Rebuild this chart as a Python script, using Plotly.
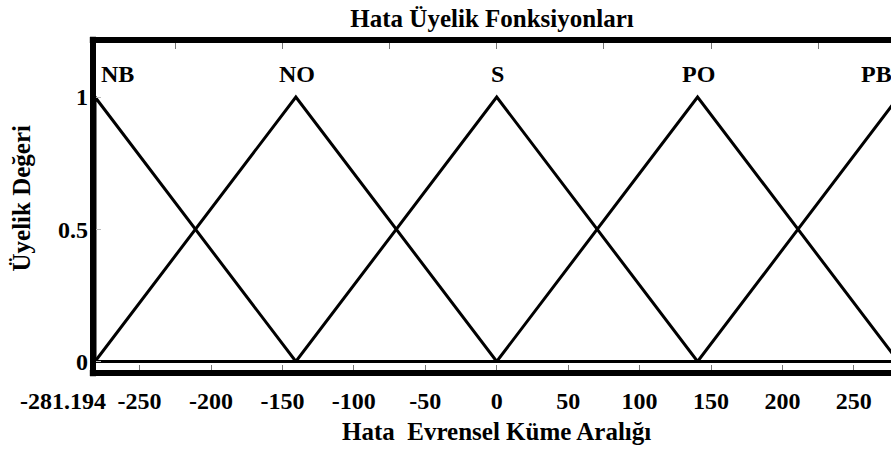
import plotly.graph_objects as go

# Hata (error) membership functions - triangular, universe +-281.194
names = ['NB', 'NO', 'S', 'PO', 'PB']
centers = [-281.194, -140.597, 0.0, 140.597, 281.194]
half_width = 140.597
u_min, u_max = -281.194, 281.194

x_tickvals = [-281.194, -250, -200, -150, -100, -50, 0, 50, 100, 150, 200, 250]
x_ticktext = ['', '-250', '-200', '-150', '-100', '-50', '0', '50', '100', '150', '200', '250']
y_tickvals = [0, 0.5, 1]
y_ticktext = ['0', '0.5', '1']

FONT = 'Liberation Serif'
W, H = 891, 451

fig = go.Figure()

for name, c in zip(names, centers):
    a = max(c - half_width, u_min)
    b = min(c + half_width, u_max)
    xs = [u_min, a, c, b, u_max]
    ys = [0, 0 if a < c else 1, 1, 0 if b > c else 1, 0]
    fig.add_trace(go.Scatter(x=xs, y=ys, mode='lines', name=name,
                             line=dict(color='black', width=3),
                             showlegend=False, hoverinfo='skip'))

# invisible trace so the top tick axis exists
fig.add_trace(go.Scatter(x=[u_min, u_max], y=[0, 0], xaxis='x2', mode='lines',
                         line=dict(width=0), showlegend=False, hoverinfo='skip'))

# mf labels
for i, (name, c) in enumerate(zip(names, centers)):
    if i == len(names) - 1:
        # peak is off the right edge, pin label to the plot edge
        fig.add_annotation(x=1, xref='paper', y=1.087, text='<b>' + name + '</b>',
                           showarrow=False, xanchor='right', yanchor='middle', xshift=3,
                           font=dict(family=FONT, size=24, color='black'))
        continue
    if i == 0:
        anchor, shift = 'left', 4
    else:
        anchor, shift = 'center', 1
    fig.add_annotation(x=c, y=1.087, text='<b>' + name + '</b>', showarrow=False,
                       xanchor=anchor, yanchor='middle', xshift=shift,
                       font=dict(family=FONT, size=24, color='black'))

# first tick label, pushed left so it doesn't hit -250
fig.add_annotation(x=u_min, y=0, yref='paper', text='<b>-281.194</b>', showarrow=False,
                   xanchor='right', yanchor='middle', xshift=13, yshift=-28,
                   font=dict(family=FONT, size=24, color='black'))

# axis titles
fig.add_annotation(x=0, y=0, yref='paper', text='<b>Hata\u00a0 Evrensel Küme Aralığı</b>',
                   showarrow=False, xanchor='center', yanchor='middle', yshift=-58,
                   font=dict(family=FONT, size=25, color='black'))
fig.add_annotation(x=0, xref='paper', y=0.5, yref='paper', text='<b>Üyelik Değeri</b>',
                   showarrow=False, textangle=-90, xanchor='center', yanchor='middle',
                   xshift=-72, yshift=8,
                   font=dict(family=FONT, size=25, color='black'))

# thick frame (left, top, bottom - right side runs off the picture)
frame = dict(type='line', xref='paper', yref='paper', line=dict(color='black', width=6))
fig.add_shape(**frame, x0=0, x1=0, y0=-0.01, y1=1.01)
fig.add_shape(**frame, x0=-0.004, x1=1.01, y0=1, y1=1)
fig.add_shape(**frame, x0=-0.004, x1=1.01, y0=0, y1=0)

fig.update_layout(
    width=W, height=H,
    margin=dict(l=93, r=0, t=40, b=78),
    paper_bgcolor='white', plot_bgcolor='white',
    title=dict(text='<b>Hata Üyelik Fonksiyonları</b>', x=0.5, xref='paper',
               y=1 - 18 / H, yref='container', yanchor='middle', xanchor='center',
               font=dict(family=FONT, size=25, color='black')),
    xaxis=dict(range=[-282.6, 276.0], tickvals=x_tickvals, ticktext=x_ticktext,
               ticks='inside', ticklen=8, tickwidth=1, tickcolor='#777',
               showgrid=False, zeroline=False, showline=False,
               tickfont=dict(family=FONT, size=24, color='black', weight='bold'),
               ticklabelstandoff=11),
    xaxis2=dict(range=[-282.6, 276.0], overlaying='x', side='top', anchor='y',
                tick0=0, dtick=75, ticks='inside', ticklen=9, tickwidth=1,
                tickcolor='#777', showticklabels=False, showgrid=False,
                zeroline=False, showline=False),
    yaxis=dict(range=[-0.0435, 1.2155], tickvals=y_tickvals, ticktext=y_ticktext,
               ticks='inside', ticklen=8, tickwidth=1, tickcolor='#bbb',
               showgrid=False, zeroline=False, showline=False,
               tickfont=dict(family=FONT, size=24, color='black', weight='bold'),
               ticklabelstandoff=4),
)

# drop the default 8px page margin so the figure fills the window exactly
fig.write_html('out.html', config={'displayModeBar': False},
               post_script="document.body.style.margin='0';document.body.style.overflow='hidden';")
